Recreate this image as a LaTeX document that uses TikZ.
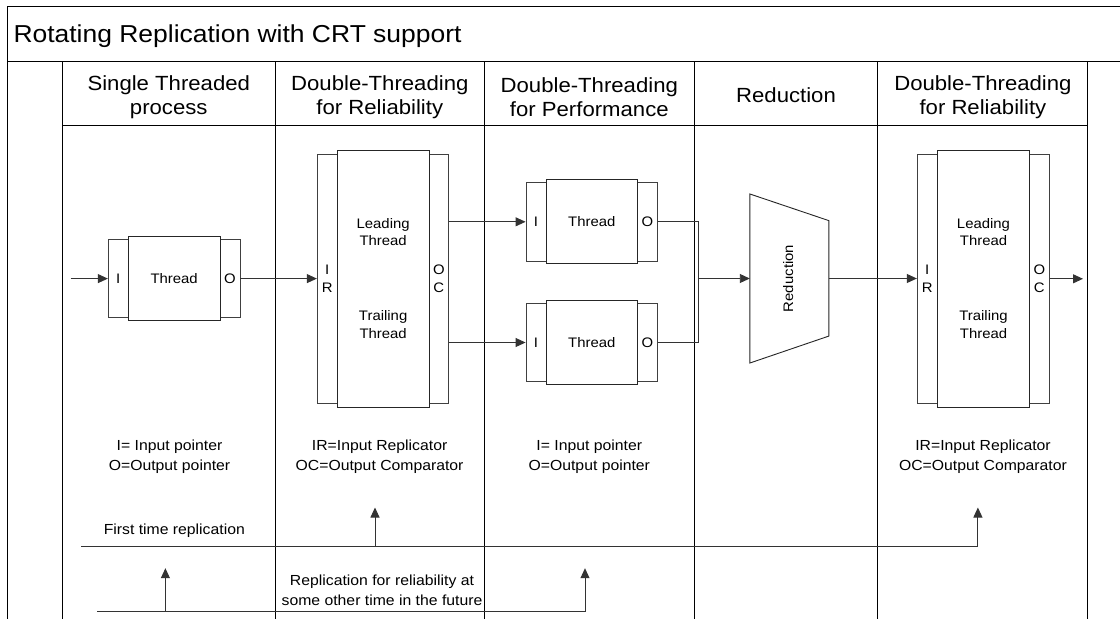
\documentclass[tikz,border=0pt]{standalone}
\usepackage{fontspec}
\setmainfont{Liberation Sans}[FakeStretch=1.08]
\usetikzlibrary{arrows.meta}
\newcommand\ttlfont{\fontsize{24.5}{29}\selectfont}
\newcommand\hdrfont{\fontsize{20.5}{24}\selectfont}
\newcommand\boxfont{\fontsize{13.8}{17.6}\selectfont}
\newcommand\legfont{\fontsize{14.6}{19.6}\selectfont}
\begin{document}
\begin{tikzpicture}[x=1pt,y=-1pt,
  grid/.style={draw=black, line width=1pt},
  tab/.style={draw=black!75, line width=0.9pt, minimum width=20pt, minimum height=78.5pt, inner sep=0pt, font=\boxfont, align=center},
  core/.style={draw=black!85, line width=0.9pt, fill=white, minimum width=91.7pt, minimum height=84pt, inner sep=0pt, font=\boxfont},
  bigtab/.style={tab, minimum height=249pt},
  bigcore/.style={core, minimum height=257pt},
  wire/.style={draw=black!80, line width=0.9pt},
  arr/.style={wire, -{Triangle[length=10pt,width=9pt]}},
  lbl/.style={inner sep=0pt, align=center, font=\boxfont},
  leg/.style={inner sep=0pt, align=center, font=\legfont},
  hdr/.style={inner sep=0pt, align=center, font=\hdrfont}]
\useasboundingbox (0,0) rectangle (1120,619);
\fill[white] (0,0) rectangle (1120,619);

% frame, title row and swim lanes
\draw[grid] (1120,6) -- (7.7,6) -- (7.7,619);
\draw[grid] (7.7,61) -- (1120,61);
\draw[grid] (62.5,125.7) -- (1087.8,125.7);
\foreach \x in {62.5,275,484.6,694,877.9,1087.8}
  \draw[grid] (\x,61) -- (\x,619);

\node[anchor=base west, inner sep=0pt, font=\ttlfont] (title) at (13.3,42) {Rotating Replication with CRT support};

\node[hdr] (h1) at (168.75,96.8) {Single Threaded\\process};
\node[hdr] (h2) at (379.8,96.8) {Double-Threading\\for Reliability};
\node[hdr] (h3) at (589.3,96.8) {Double-Threading\\for Performance};
\node[hdr] (h4) at (786,95) {Reduction};
\node[hdr] (h5) at (982.9,96.8) {Double-Threading\\for Reliability};

% single thread
\node[tab] (t1i) at (118.3,278.6) {I};
\node[tab] (t1o) at (230,278.6) {O};
\node[core] (t1) at (174.15,278.6) {Thread};

% double threading for reliability
\node[bigtab] (d1i) at (327.3,278.8) {I\\R};
\node[bigtab] (d1o) at (438.85,278.8) {O\\C};
\node[bigcore] (d1) at (383.15,278.8) {};
\node[lbl] (d1a) at (383.15,232.2) {Leading\\Thread};
\node[lbl] (d1b) at (383.15,324.7) {Trailing\\Thread};

% double threading for performance
\node[tab] (p1i) at (536,221.8) {I};
\node[tab] (p1o) at (647.5,221.8) {O};
\node[core] (p1) at (591.85,221.8) {Thread};
\node[tab] (p2i) at (536,342.5) {I};
\node[tab] (p2o) at (647.5,342.5) {O};
\node[core] (p2) at (591.85,342.5) {Thread};

% reduction
\node[minimum width=78.7pt, minimum height=168.7pt, inner sep=0pt] (red) at (789.35,278.5) {};
\draw[draw=black!85, line width=0.9pt] (red.north west) -- ([yshift=-26.7pt]red.north east)
  -- ([yshift=27pt]red.south east) -- (red.south west) -- cycle;
\node[lbl, rotate=90] (redl) at (788.3,278.5) {Reduction};

% double threading for reliability, second time
\node[bigtab] (d2i) at (927.3,278.8) {I\\R};
\node[bigtab] (d2o) at (1039.35,278.8) {O\\C};
\node[bigcore] (d2) at (983.5,278.8) {};
\node[lbl] (d2a) at (983.5,232.2) {Leading\\Thread};
\node[lbl] (d2b) at (983.5,324.7) {Trailing\\Thread};

% data flow
\coordinate (in) at (70.7,278.6);
\coordinate (jn) at (698.3,278.5);
\coordinate (out) at (1083,278.8);
\draw[arr] (in) -- (t1i.west);
\draw[arr] (t1o.east) -- (t1o.east -| d1i.west);
\draw[arr] (d1o.east |- p1i.west) -- (p1i.west);
\draw[arr] (d1o.east |- p2i.west) -- (p2i.west);
\draw[wire] (p1o.east) -| (jn) |- (p2o.east);
\draw[arr] (jn) -- (red.west);
\draw[arr] (red.east) -- (red.east -| d2i.west);
\draw[arr] (d2o.east) -- (out);

% legends
\node[leg] (g1) at (169.5,456.6) {I= Input pointer\\O=Output pointer};
\node[leg] (g2) at (379.6,456.6) {IR=Input Replicator\\OC=Output Comparator};
\node[leg] (g3) at (589.3,456.6) {I= Input pointer\\O=Output pointer};
\node[leg] (g5) at (983,456.6) {IR=Input Replicator\\OC=Output Comparator};

% replication time lines
\node[leg] (r1) at (174.3,530.7) {First time replication};
\node[leg] (r2) at (382,590) {Replication for reliability at\\some other time in the future};
\coordinate (f0) at (81.4,546.8);
\coordinate (f1) at (977.9,507.5);
\coordinate (f2) at (375,546.8);
\coordinate (f3) at (375,507.5);
\draw[arr] (f0) -| (f1);
\draw[arr] (f2) -- (f3);
\coordinate (s0) at (97.1,611.8);
\coordinate (s1) at (585,568.2);
\coordinate (s2) at (165.4,611.8);
\coordinate (s3) at (165.4,568.2);
\draw[arr] (s0) -| (s1);
\draw[arr] (s2) -- (s3);
\end{tikzpicture}
\end{document}
